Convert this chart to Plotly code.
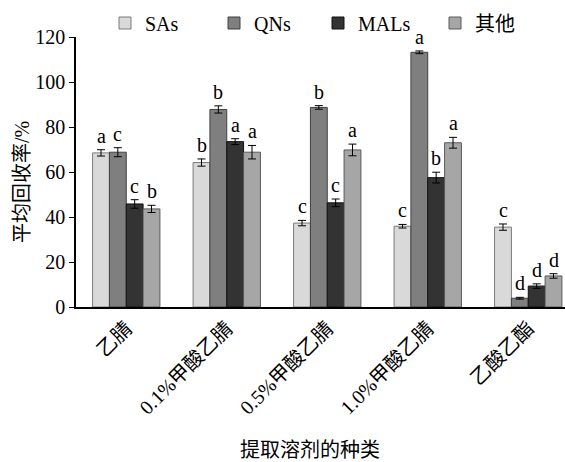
import plotly.graph_objects as go

categories = ["乙腈", "0.1%甲酸乙腈", "0.5%甲酸乙腈", "1.0%甲酸乙腈", "乙酸乙酯"]
series_names = ["SAs", "QNs", "MALs", "其他"]

sas = [68.5, 64.2, 37.3, 35.9, 35.5]
qns = [68.8, 87.8, 88.7, 113.2, 3.9]
mals = [45.8, 73.5, 46.3, 57.5, 9.3]
others = [43.6, 68.8, 69.8, 73.0, 13.8]

sas_err = [1.4, 1.6, 1.2, 0.8, 1.4]
qns_err = [2.0, 1.6, 0.8, 0.6, 0.4]
mals_err = [1.9, 1.3, 1.7, 2.4, 1.0]
others_err = [1.6, 3.0, 2.6, 2.4, 1.0]

sas_sig = ["a", "b", "c", "c", "c"]
qns_sig = ["c", "b", "b", "a", "d"]
mals_sig = ["c", "a", "c", "b", "d"]
others_sig = ["b", "a", "a", "a", "d"]

values = [sas, qns, mals, others]
errors = [sas_err, qns_err, mals_err, others_err]
sigs = [sas_sig, qns_sig, mals_sig, others_sig]
colors = ["#d9d9d9", "#7f7f7f", "#333333", "#a6a6a6"]
edge = ["#7a7a7a", "#404040", "#111111", "#5a5a5a"]
legend_text_px = [145, 254, 358, 475]

FONT = "Liberation Serif, Times New Roman, Noto Sans CJK SC, serif"
bargap = 0.33
n = len(series_names)
w = (1 - bargap) / n

L, R, T, B = 76, 0, 37, 155
W, H = 565, 462
pw, ph = W - L - R, H - T - B


def px_to_paper_x(px):
    return (px - L) / pw


def px_to_paper_y(py):
    return (H - B - py) / ph


fig = go.Figure()
legend_ids = ["legend", "legend2", "legend3", "legend4"]
for i in range(n):
    fig.add_trace(go.Bar(
        name=series_names[i], x=categories, y=values[i],
        marker=dict(color=colors[i], line=dict(color=edge[i], width=1)),
        error_y=dict(type="data", array=errors[i], color="#000000", thickness=1, width=4),
        legend=legend_ids[i],
    ))

annotations = []
for i in range(n):
    off = (i - (n - 1) / 2) * w
    for j in range(len(categories)):
        annotations.append(dict(
            x=j + off, y=values[i][j] + errors[i][j], xref="x", yref="y",
            text=sigs[i][j], showarrow=False, yanchor="bottom", xanchor="center",
            yshift=1, font=dict(family=FONT, size=20, color="#000000"),
        ))

# axis titles
annotations.append(dict(
    x=px_to_paper_x(310), y=px_to_paper_y(450), xref="paper", yref="paper",
    text="提取溶剂的种类", showarrow=False, yanchor="middle", xanchor="center",
    font=dict(family=FONT, size=20, color="#000000"),
))
annotations.append(dict(
    x=px_to_paper_x(22), y=px_to_paper_y(182), xref="paper", yref="paper",
    text="平均回收率/%", showarrow=False, yanchor="middle", xanchor="center",
    textangle=-90, font=dict(family=FONT, size=20, color="#000000"),
))

legend_layout = {}
for i, lid in enumerate(legend_ids):
    legend_layout[lid] = dict(
        orientation="h", x=px_to_paper_x(legend_text_px[i] - 40), xanchor="left",
        y=px_to_paper_y(23), yanchor="middle",
        font=dict(family=FONT, size=20, color="#000000"),
        itemwidth=30, bgcolor="rgba(0,0,0,0)", borderwidth=0,
    )

fig.update_layout(
    width=W, height=H,
    margin=dict(l=L, r=R, t=T, b=B, pad=0, autoexpand=False),
    paper_bgcolor="white", plot_bgcolor="white",
    barmode="group", bargap=bargap, bargroupgap=0,
    font=dict(family=FONT, size=20, color="#000000"),
    showlegend=True,
    annotations=annotations,
    xaxis=dict(
        type="category", range=[-0.5, -0.5 + pw / 100.5], automargin=False,
        showline=True, linecolor="#000000", linewidth=1.5,
        ticks="", tickangle=-45, showgrid=False, zeroline=False,
        tickfont=dict(family=FONT, size=20, color="#000000"),
    ),
    yaxis=dict(
        range=[0, 120], dtick=20, showline=True, linecolor="#000000", linewidth=1.5,
        automargin=False,
        ticks="outside", ticklen=5, tickcolor="#000000", showgrid=False, zeroline=False,
        tickfont=dict(family=FONT, size=20, color="#000000"),
    ),
    **legend_layout,
)

fig.write_html(
    "out.html",
    config={"displayModeBar": False},
    post_script="document.body.style.margin='0';document.body.style.overflow='hidden';",
)
